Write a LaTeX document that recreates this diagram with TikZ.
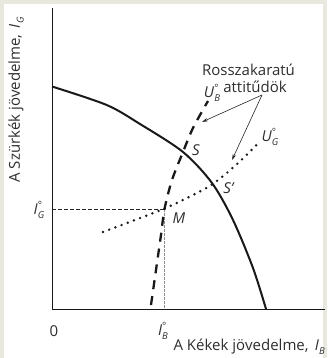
\documentclass[tikz,border=0pt]{standalone}
\usepackage{fontspec}
\setmainfont{Open Sans}
\usetikzlibrary{arrows.meta}
\definecolor{bgc}{HTML}{E8E8DE}
\definecolor{txt}{HTML}{2E2E2E}
\newcommand{\ilab}[2]{\textit{#1}\rlap{\raisebox{0.75ex}{\fontsize{10}{10}\selectfont °}}\raisebox{-0.45ex}{\fontsize{9.5}{10}\selectfont\itshape #2}}
\newcommand{\isub}[2]{\textit{#1}\raisebox{-0.45ex}{\fontsize{9.5}{10}\selectfont\itshape #2}}
\begin{document}
\begin{tikzpicture}[x=1pt,y=-1pt,
  axisline/.style={line width=0.9pt, black!90},
  frontier/.style={line width=2pt, black!90},
  ubcurve/.style={line width=2.3pt, black!90, dash pattern=on 9pt off 7pt},
  ugcurve/.style={line width=2.7pt, black!90, line cap=round, dash pattern=on 0pt off 6.6pt},
  guide/.style={line width=0.7pt, black!85, dash pattern=on 4pt off 2pt},
  guideb/.style={line width=0.7pt, black!45, dash pattern=on 2.5pt off 1.5pt},
  lbl/.style={text=txt, inner sep=0pt, font=\fontsize{15}{17}\selectfont},
  ptr/.style={line width=0.6pt, black!85, -{Stealth[length=6pt,width=3.5pt]}}]
\useasboundingbox (0,0) rectangle (327,358);
\fill[bgc] (0,0) rectangle (327,358);
\fill[white] (4,4) rectangle (323,358);
% axes
\coordinate (o) at (52,309);
\coordinate (ytop) at (52,8);
\coordinate (xend) at (325,309);
\draw[axisline] (ytop) -- (o) -- (xend);
% frontier
\draw[frontier] plot[smooth] coordinates {(52,86.5) (106.7,105) (140,124) (183,152) (212,183) (233,220) (253,268) (266,309)};
% M and guides
\coordinate (M) at (164.5,209);
\coordinate (yg) at (52,209);
\coordinate (xb) at (164.5,309);
\draw[guide] (yg) -- (M);
\draw[guideb] (M) -- (xb);
% U_B curve
\draw[ubcurve] plot[smooth] coordinates {(151,305) (156,270) (161,235) (164.5,209) (172,180) (183,152) (193,128) (208,101)};
% U_G curve
\draw[ugcurve] plot[smooth] coordinates {(103,232) (135,220) (164.5,208.5) (188,197.5) (212,184.5) (236,165) (259,142.5)};
% labels
\node[lbl, rotate=90] (ylab) at (16,100) {A Szürkék jövedelme,\, \isub{I}{G}};
\node[lbl, anchor=east] (xlab) at (325,347) {A Kékek jövedelme,\, \isub{I}{B}};
\node[lbl] (zero) at (54,331) {0};
\node[lbl] (ib) at (163,331) {\ilab{I}{B}};
\node[lbl] (ig) at (39,210) {\ilab{I}{G}};
\node[lbl] (mlab) at (179,218) {\textit{M}};
\node[lbl] (slab) at (196,150) {\textit{S}};
\node[lbl] (splab) at (229,188) {\textit{S'}};
\node[lbl] (ublab) at (212,93) {\ilab{U}{B}};
\node[lbl] (uglab) at (270,137) {\ilab{U}{G}};
\node[lbl] (att) at (248.5,70) {Rosszakaratú};
\node[lbl] (att2) at (255,87) {attitűdök};
% arrows
\coordinate (attp) at (262,95);
\coordinate (onub) at (202,122);
\coordinate (onug) at (232,160);
\draw[ptr] (attp) -- (onub);
\draw[ptr] (attp) -- (onug);
\end{tikzpicture}
\end{document}
